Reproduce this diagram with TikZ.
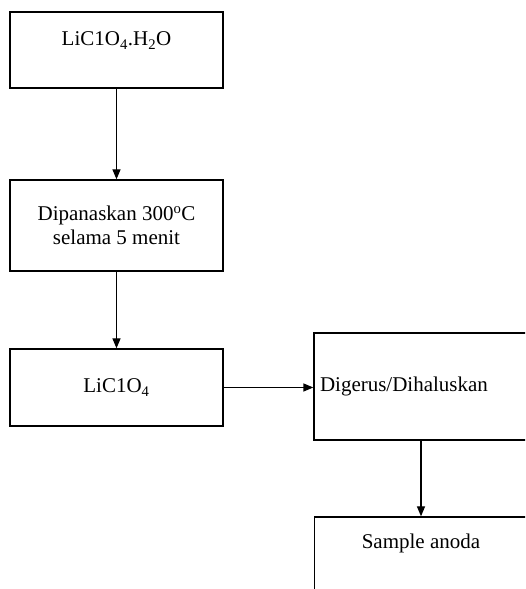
\documentclass[tikz,border=0pt]{standalone}
\usepackage{fontspec}
\setmainfont{Liberation Serif}
\usetikzlibrary{arrows.meta}

\begin{document}
\begin{tikzpicture}[x=1pt, y=1pt, >={Triangle[length=10pt,width=8pt]},
    box/.style={draw, line width=1.3pt, minimum width=213pt, inner sep=0pt,
      font=\fontsize{21}{24}\selectfont, align=center},
    link/.style={->, line width=1.3pt}]
    \clip (0,0) rectangle (525,589);

    \node[box, text height=34pt, text depth=42pt] (hidrat) at (116.5,539)
      {LiC1O\textsubscript{4}.H\textsubscript{2}O};
    \node[box, minimum height=91pt] (panas) at (116.5,363.5)
      {Dipanaskan 300\textsuperscript{o}C\\selama 5 menit};
    \node[box, minimum height=77pt] (anhidrat) at (116.5,201.5)
      {LiC1O\textsubscript{4}};

    \node[box, inner xsep=6pt, text width=202pt, align=left, minimum height=107pt]
      (gerus) at (421,202.5) {Digerus/Dihaluskan};
    \node[box, text height=32pt, text depth=44pt] (sampel) at (421,34)
      {Sample anoda};

    \draw[link] (hidrat) -- (panas);
    \draw[link] (panas) -- (anhidrat);
    \draw[link] (anhidrat) -- (anhidrat -| gerus.west);
    \draw[link] (gerus) -- (sampel);
\end{tikzpicture}
\end{document}
